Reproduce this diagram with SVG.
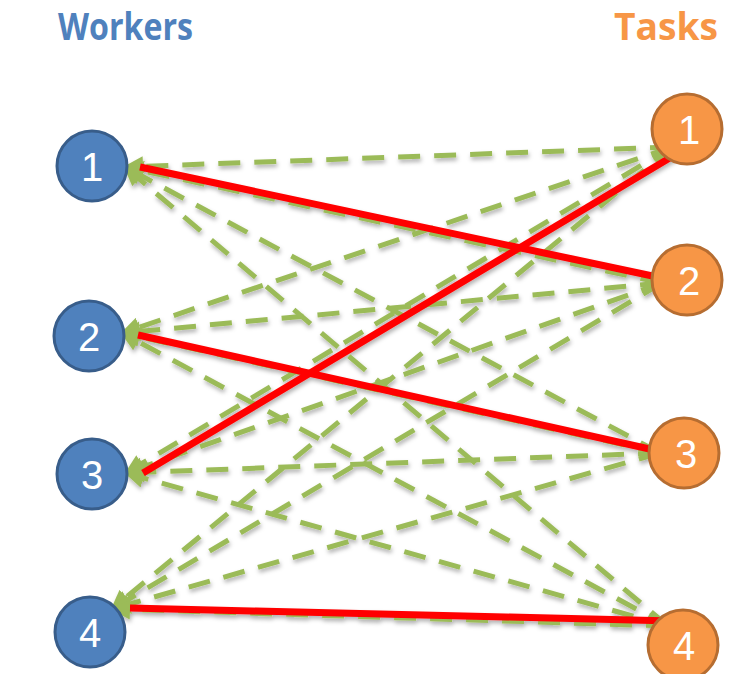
<svg xmlns="http://www.w3.org/2000/svg" width="733" height="674" viewBox="0 0 733 674">
<defs>
<marker id="ah" viewBox="0 0 10 10" refX="9" refY="5" markerWidth="4" markerHeight="4" orient="auto" markerUnits="strokeWidth">
<path d="M0,0 L10,5 L0,10 z" fill="#9BBB59"/>
</marker>
<filter id="sh" x="-10%" y="-10%" width="120%" height="130%">
<feDropShadow dx="1" dy="3" stdDeviation="2" flood-color="#000" flood-opacity="0.3"/>
</filter>
</defs>
<style>
.g{stroke:#9BBB59;stroke-width:5;stroke-dasharray:22 14;fill:none;marker-end:url(#ah)}
.r{stroke:#FF0000;stroke-width:7;fill:none}
.w{fill:#4F81BD;stroke:#385D8A;stroke-width:3}
.t{fill:#F79646;stroke:#B66D31;stroke-width:3}
.n{font-family:"Liberation Sans",Arial,sans-serif;font-size:40px;fill:#fff;text-anchor:middle}
.h{font-family:"Open Sans","Liberation Sans",sans-serif;font-weight:bold;font-size:38px}
</style>
<text class="h" x="58" y="40" fill="#4F81BD" textLength="135" lengthAdjust="spacingAndGlyphs">Workers</text>
<text class="h" x="718" y="40" fill="#F79646" text-anchor="end" textLength="104" lengthAdjust="spacingAndGlyphs">Tasks</text>
<g id="connectors" filter="url(#sh)">
<line class="g" x1="672" y1="147" x2="125" y2="167"/>
<line class="g" x1="672" y1="147" x2="122" y2="333"/>
<line class="g" x1="672" y1="147" x2="126" y2="473"/>
<line class="g" x1="672" y1="147" x2="112" y2="609"/>
<line class="g" x1="662" y1="283" x2="125" y2="167"/>
<line class="g" x1="662" y1="283" x2="122" y2="333"/>
<line class="g" x1="662" y1="283" x2="126" y2="473"/>
<line class="g" x1="662" y1="283" x2="112" y2="609"/>
<line class="g" x1="660" y1="453" x2="125" y2="167"/>
<line class="g" x1="660" y1="453" x2="122" y2="333"/>
<line class="g" x1="660" y1="453" x2="126" y2="473"/>
<line class="g" x1="660" y1="453" x2="112" y2="609"/>
<line class="g" x1="668" y1="626" x2="125" y2="167"/>
<line class="g" x1="668" y1="626" x2="122" y2="333"/>
<line class="g" x1="668" y1="626" x2="126" y2="473"/>
<line class="g" x1="668" y1="626" x2="112" y2="609"/>
<line class="r" x1="140" y1="167" x2="662" y2="278"/>
<line class="r" x1="138" y1="335" x2="663" y2="452"/>
<line class="r" x1="143" y1="473" x2="678" y2="153"/>
<line class="r" x1="130" y1="608" x2="673" y2="621"/>
</g>
<g id="w1"><circle class="w" cx="92" cy="166" r="35"/><text class="n" x="92" y="181">1</text></g>
<g id="w2"><circle class="w" cx="89" cy="336" r="35"/><text class="n" x="89" y="351">2</text></g>
<g id="w3"><circle class="w" cx="92" cy="474" r="35"/><text class="n" x="92" y="489">3</text></g>
<g id="w4"><circle class="w" cx="90" cy="632" r="35"/><text class="n" x="90" y="647">4</text></g>
<g id="t1"><circle class="t" cx="687" cy="129" r="35"/><text class="n" x="689" y="144">1</text></g>
<g id="t2"><circle class="t" cx="687" cy="280" r="35"/><text class="n" x="689" y="295">2</text></g>
<g id="t3"><circle class="t" cx="684" cy="453" r="35"/><text class="n" x="686" y="468">3</text></g>
<g id="t4"><circle class="t" cx="683" cy="645" r="35"/><text class="n" x="684" y="660">4</text></g>
</svg>
